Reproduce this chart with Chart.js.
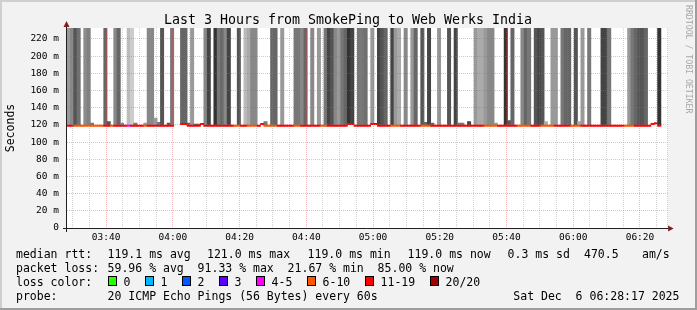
<!DOCTYPE html>
<html lang="en">
<head>
<meta charset="UTF-8">
<title>Last 3 Hours from SmokePing to Web Werks India</title>
<script src="https://cdn.jsdelivr.net/npm/chart.js"></script>
<style>
  html, body { margin: 0; padding: 0; background: #f2f2f2; }
  canvas { display: block; }
</style>
</head>
<body>
<canvas id="smokeChart" width="697" height="310"></canvas>
<script>
// one entry per 60s step, window starts 03:28:17 (minutes after 03:00)
const X_START = 28.28;
const X_END = 208.28;
const Y_MAX = 232.8;

// smoke grey level per step (null = no smoke)
const smokeGray = [
  153, 136, 85, 112, null, 140, 128, 119, null, null,
  null, 102, 85, null, 136, 102, 136, null, 187, 204,
  119, null, null, 153, 136, 136, 153, 119, 85, null,
  85, 119, null, null, 102, 102, 102, 153, 85, 85,
  null, 136, 68, null, 51, 119, 102, 136, 68, null,
  null, 85, null, 187, 170, 136, 136, null, null, 119,
  null, 102, 102, null, 153, null, null, null, 119, 119,
  136, 102, null, 136, null, 153, null, 119, 68, 85,
  136, 153, 119, 102, 51, 68, null, 119, 119, 112,
  null, 153, null, 68, 85, 102, null, 68, 153, 170,
  null, 136, null, 153, 102, null, 85, 102, 68, 102,
  null, 153, null, null, 85, null, 68, 119, 119, null,
  68, null, 153, 170, 170, 153, 136, 136, 153, null,
  null, 51, 85, 102, null, null, 136, 102, 119, null,
  85, 68, 85, 170, null, 153, 153, null, 119, 102,
  102, null, 85, 170, 153, null, 119, null, null, null,
  68, 68, 119, null, null, null, null, null, 153, 119,
  102, 85, 85, 102, null, null, null, 51
];

// upper edge of the smoke in ms (250 = off the top of the graph)
const smokeTop = [
  250, 250, 250, 250, null, 250, 250, 122, null, null,
  null, 250, 124, null, 250, 250, 122, null, 250, 250,
  122, null, null, 122, 250, 250, 128, 123, 250, null,
  122, 250, null, null, 250, 250, 122, 250, 121, 121,
  null, 250, 250, null, 250, 250, 250, 250, 250, null,
  null, 250, null, 250, 250, 250, 250, null, null, 124,
  null, 250, 250, null, 250, null, null, null, 250, 250,
  250, 250, null, 250, null, 250, null, 250, 250, 250,
  250, 250, 250, 250, 250, 250, null, 250, 250, 250,
  null, 250, null, 250, 250, 250, null, 250, 250, 250,
  null, 250, null, 250, 250, null, 250, 123, 250, 122,
  null, 250, null, null, 250, null, 250, 122, 122, null,
  124, null, 250, 250, 250, 250, 250, 250, 122, null,
  null, 250, 125, 250, null, null, 250, 250, 250, null,
  250, 250, 250, 124, null, 250, 250, null, 250, 250,
  250, null, 250, 124, 250, null, 250, null, null, null,
  250, 250, 250, null, null, null, null, null, 250, 250,
  250, 250, 250, 250, null, null, null, 250
];

// median rtt in ms
const medianRtt = [
  119, 119, 119, 119, 119, 119, 119, 119, 119, 119,
  119, 119, 119, 119, 119, 119, 119, 119, 119, 119,
  119, 119, 119, 119, 119, 119, 119, 119, 119, 119,
  119, 119, null, null, 121, 121, 119, 119, 119, 119,
  121, 119, 119, 119, 119, 119, 119, 119, 119, 119,
  119, 119, 119, 119, 119, 119, 119, 119, 121, 119,
  119, 119, 119, 119, 119, 119, 119, 119, 119, 119,
  119, 119, 119, 119, 119, 119, 119, 119, 119, 119,
  119, 119, 119, 119, 121, 121, 119, 119, 119, 119,
  119, 121, 121, 119, 119, 119, 119, 119, 119, 119,
  119, 119, 119, 119, 119, 119, 119, 119, 119, 119,
  119, 119, 119, 119, 119, 119, 119, 119, 119, 119,
  119, 119, 119, 119, 119, 119, 119, 119, 119, 119,
  119, 119, 119, 119, 119, 119, 119, 119, 119, 119,
  119, 119, 119, 119, 119, 119, 119, 119, 119, 119,
  119, 119, 119, 119, 119, 119, 119, 119, 119, 119,
  119, 119, 119, 119, 119, 119, 119, 119, 119, 119,
  119, 119, 119, 119, 119, 121, 122, 119
];

// lost pings out of 20
const lossCount = [
  14, 12, 9, 8, 10, 9, 8, 9, 10, 7,
  9, 13, 12, 9, 13, 15, 12, 11, 5, 12,
  11, 12, 13, 9, 15, 14, 12, 11, 16, 12,
  13, 14, null, null, 14, 13, 12, 15, 12, 12,
  13, 12, 15, 12, 17, 14, 13, 12, 16, 12,
  9, 8, 12, 13, 10, 9, 10, 12, 13, 9,
  8, 10, 9, 12, 14, 13, 12, 11, 9, 10,
  12, 14, 12, 13, 11, 12, 9, 8, 15, 14,
  13, 12, 13, 14, 16, 15, 12, 14, 13, 13,
  12, 14, 13, 15, 16, 14, 12, 9, 10, 8,
  12, 13, 12, 13, 14, 12, 9, 10, 9, 13,
  12, 14, 12, 11, 15, 12, 16, 13, 12, 12,
  14, 12, 13, 14, 13, 9, 8, 10, 9, 12,
  13, 18, 13, 14, 12, 9, 10, 8, 9, 12,
  14, 16, 9, 9, 10, 8, 13, 12, 13, 14,
  13, 9, 10, 8, 12, 13, 14, 12, 11, 12,
  15, 14, 13, 12, 12, 11, 12, 9, 10, 9,
  13, 14, 12, 13, 12, 14, 15, 17
];

const lossLimits = [0, 1, 2, 3, 5, 10, 19, 20];
const lossLabels = ['0', '1', '2', '3', '4-5', '6-10', '11-19', '20/20'];
const lossColors = ['#26ff00', '#00b8ff', '#0059ff', '#5e00ff', '#ff00ff', '#ff5500', '#ff0000', '#a10000'];

const titleText = 'Last 3 Hours from SmokePing to Web Werks India';
const rttStats = ['119.1 ms avg', '121.0 ms max', '119.0 ms min', '119.0 ms now', '0.3 ms sd', '470.5', 'am/s'];
const lossStats = '59.96 % avg  91.33 % max  21.67 % min  85.00 % now';
const probeText = '20 ICMP Echo Pings (56 Bytes) every 60s';
const stampText = 'Sat Dec  6 06:28:17 2025';

function lossColor(n) {
  for (let i = 0; i < lossLimits.length; i++) {
    if (n <= lossLimits[i]) return lossColors[i];
  }
  return lossColors[lossColors.length - 1];
}

function fmtTime(min) {
  const h = 3 + Math.floor(min / 60);
  const m = min % 60;
  return String(h).padStart(2, '0') + ':' + String(m).padStart(2, '0');
}

const stepX = smokeGray.map((_, i) => X_START + i + 0.5);

const smokeData = stepX.map((x, i) => ({
  x: x,
  y: smokeGray[i] === null ? null : [medianRtt[i], smokeTop[i]]
}));
const medianData = stepX.map((x, i) => ({
  x: x,
  y: medianRtt[i] === null ? null : [medianRtt[i] - 0.8, medianRtt[i] + 0.8]
}));

// grid positions
const xGrid = [];
for (let m = 30; m <= 205; m += 5) xGrid.push(m);
xGrid.push(X_END);
const yGrid = [];
for (let v = 0; v <= 230; v += 10) yGrid.push(v);

const MONO = '"DejaVu Sans Mono", monospace';
const minorGrid = 'rgba(143,143,143,0.38)';
const majorGrid = 'rgba(222,80,80,0.4)';

const rrdDecor = {
  id: 'rrdDecor',
  beforeDraw(chart) {
    const { ctx, chartArea: a } = chart;
    ctx.save();
    ctx.fillStyle = '#f2f2f2';
    ctx.fillRect(0, 0, chart.width, chart.height);
    ctx.fillStyle = '#ffffff';
    ctx.fillRect(a.left, a.top, a.right - a.left, a.bottom - a.top);
    ctx.restore();
  },
  afterDraw(chart) {
    const { ctx, chartArea: a } = chart;
    ctx.save();

    // axes
    ctx.strokeStyle = '#1f1f1f';
    ctx.lineWidth = 1;
    ctx.beginPath();
    ctx.moveTo(a.left - 4, a.bottom + 0.5);
    ctx.lineTo(a.right + 2, a.bottom + 0.5);
    ctx.moveTo(a.left - 0.5, a.bottom + 4);
    ctx.lineTo(a.left - 0.5, a.top - 1);
    ctx.stroke();

    // arrows
    ctx.fillStyle = '#7f1f1f';
    ctx.beginPath();
    ctx.moveTo(a.right + 0.5, a.bottom - 2.5);
    ctx.lineTo(a.right + 0.5, a.bottom + 3.5);
    ctx.lineTo(a.right + 6, a.bottom + 0.5);
    ctx.closePath();
    ctx.fill();
    ctx.beginPath();
    ctx.moveTo(a.left - 3.5, a.top - 1);
    ctx.lineTo(a.left + 2.5, a.top - 1);
    ctx.lineTo(a.left - 0.5, a.top - 7);
    ctx.closePath();
    ctx.fill();

    // title
    ctx.fillStyle = '#000';
    ctx.font = '13.3px ' + MONO;
    ctx.textAlign = 'center';
    ctx.textBaseline = 'alphabetic';
    ctx.fillText(titleText, 348, 24);

    // vertical axis label
    ctx.save();
    ctx.translate(11, 128);
    ctx.rotate(-Math.PI / 2);
    ctx.font = '11.5px ' + MONO;
    ctx.textAlign = 'center';
    ctx.textBaseline = 'middle';
    ctx.fillText('Seconds', 0, 0);
    ctx.restore();

    // watermark
    ctx.save();
    ctx.translate(688, 5);
    ctx.rotate(Math.PI / 2);
    ctx.font = '8.2px ' + MONO;
    ctx.fillStyle = '#a8a8a8';
    ctx.textAlign = 'left';
    ctx.textBaseline = 'middle';
    ctx.fillText('RRDTOOL / TOBI OETIKER', 0, 0);
    ctx.restore();

    // legend
    ctx.font = '11.5px ' + MONO;
    ctx.textAlign = 'left';
    ctx.textBaseline = 'alphabetic';
    ctx.fillStyle = '#000';
    const rttX = [107.6, 207, 307.6, 407.6, 507.6, 584, 642];
    ctx.fillText('median rtt:', 16, 258);
    rttStats.forEach((t, i) => ctx.fillText(t, rttX[i], 258));
    ctx.fillText('packet loss:', 16, 272);
    ctx.fillText(lossStats, 107.6, 272);
    ctx.fillText('loss color:', 16, 286);
    const boxX = [108, 145, 182, 219, 256, 307, 365, 430];
    lossLabels.forEach((t, i) => {
      ctx.fillStyle = lossColors[i];
      ctx.fillRect(boxX[i], 276, 9, 10);
      ctx.strokeStyle = '#000';
      ctx.strokeRect(boxX[i] + 0.5, 276.5, 8, 9);
      ctx.fillStyle = '#000';
      ctx.fillText(t, boxX[i] + 15.6, 286);
    });
    ctx.fillText('probe:', 16, 300);
    ctx.fillText(probeText, 107.6, 300);
    ctx.fillText(stampText, 513.3, 300);

    // frame shading
    ctx.fillStyle = '#cfcfcf';
    ctx.fillRect(0, 0, chart.width, 2);
    ctx.fillRect(0, 0, 2, chart.height);
    ctx.fillStyle = '#9e9e9e';
    ctx.fillRect(0, chart.height - 2, chart.width, 2);
    ctx.fillRect(chart.width - 2, 0, 2, chart.height);

    ctx.restore();
  }
};

const ctx = document.getElementById('smokeChart').getContext('2d');
new Chart(ctx, {
  type: 'bar',
  data: {
    datasets: [
      {
        label: 'median rtt',
        data: medianData,
        order: 0,
        backgroundColor: c => lossColor(lossCount[c.dataIndex]),
        borderWidth: 0
      },
      {
        label: 'smoke',
        data: smokeData,
        order: 1,
        backgroundColor: c => {
          const g = smokeGray[c.dataIndex];
          return g === null ? 'rgba(0,0,0,0)' : 'rgb(' + g + ',' + g + ',' + g + ')';
        },
        borderWidth: 0
      }
    ]
  },
  options: {
    responsive: false,
    animation: false,
    devicePixelRatio: 1,
    events: [],
    grouped: false,
    barPercentage: 1,
    categoryPercentage: 1,
    layout: { padding: { left: 0, top: 28, right: 29.4, bottom: 62 } },
    plugins: {
      legend: { display: false },
      tooltip: { enabled: false },
      title: { display: false }
    },
    scales: {
      x: {
        type: 'linear',
        min: X_START,
        max: X_END,
        offset: false,
        afterBuildTicks: s => { s.ticks = xGrid.map(v => ({ value: v })); },
        afterFit: s => { s.height = 20; },
        grid: {
          offset: false,
          drawTicks: false,
          z: 1,
          lineWidth: 1,
          borderDash: [1, 1],
          color: c => (c.tick && c.tick.value % 20 === 0) ? majorGrid : minorGrid
        },
        border: { display: false, dash: [1, 1] },
        ticks: {
          autoSkip: false,
          maxRotation: 0,
          minRotation: 0,
          padding: 4,
          color: '#000',
          font: { family: 'DejaVu Sans Mono', size: 9.5 },
          callback: v => (v % 20 === 0) ? fmtTime(v) : ''
        }
      },
      y: {
        min: 0,
        max: Y_MAX,
        afterBuildTicks: s => { s.ticks = yGrid.map(v => ({ value: v })); },
        afterFit: s => { s.width = 67; },
        grid: {
          drawTicks: false,
          z: 1,
          lineWidth: 1,
          borderDash: [1, 1],
          color: c => (c.tick && c.tick.value % 20 === 0) ? majorGrid : minorGrid
        },
        border: { display: false, dash: [1, 1] },
        ticks: {
          padding: 8,
          color: '#000',
          font: { family: 'DejaVu Sans Mono', size: 9.5 },
          callback: v => (v % 20 === 0) ? (v === 0 ? '0' : v + ' m') : ''
        }
      }
    }
  },
  plugins: [rrdDecor]
});
</script>
</body>
</html>
